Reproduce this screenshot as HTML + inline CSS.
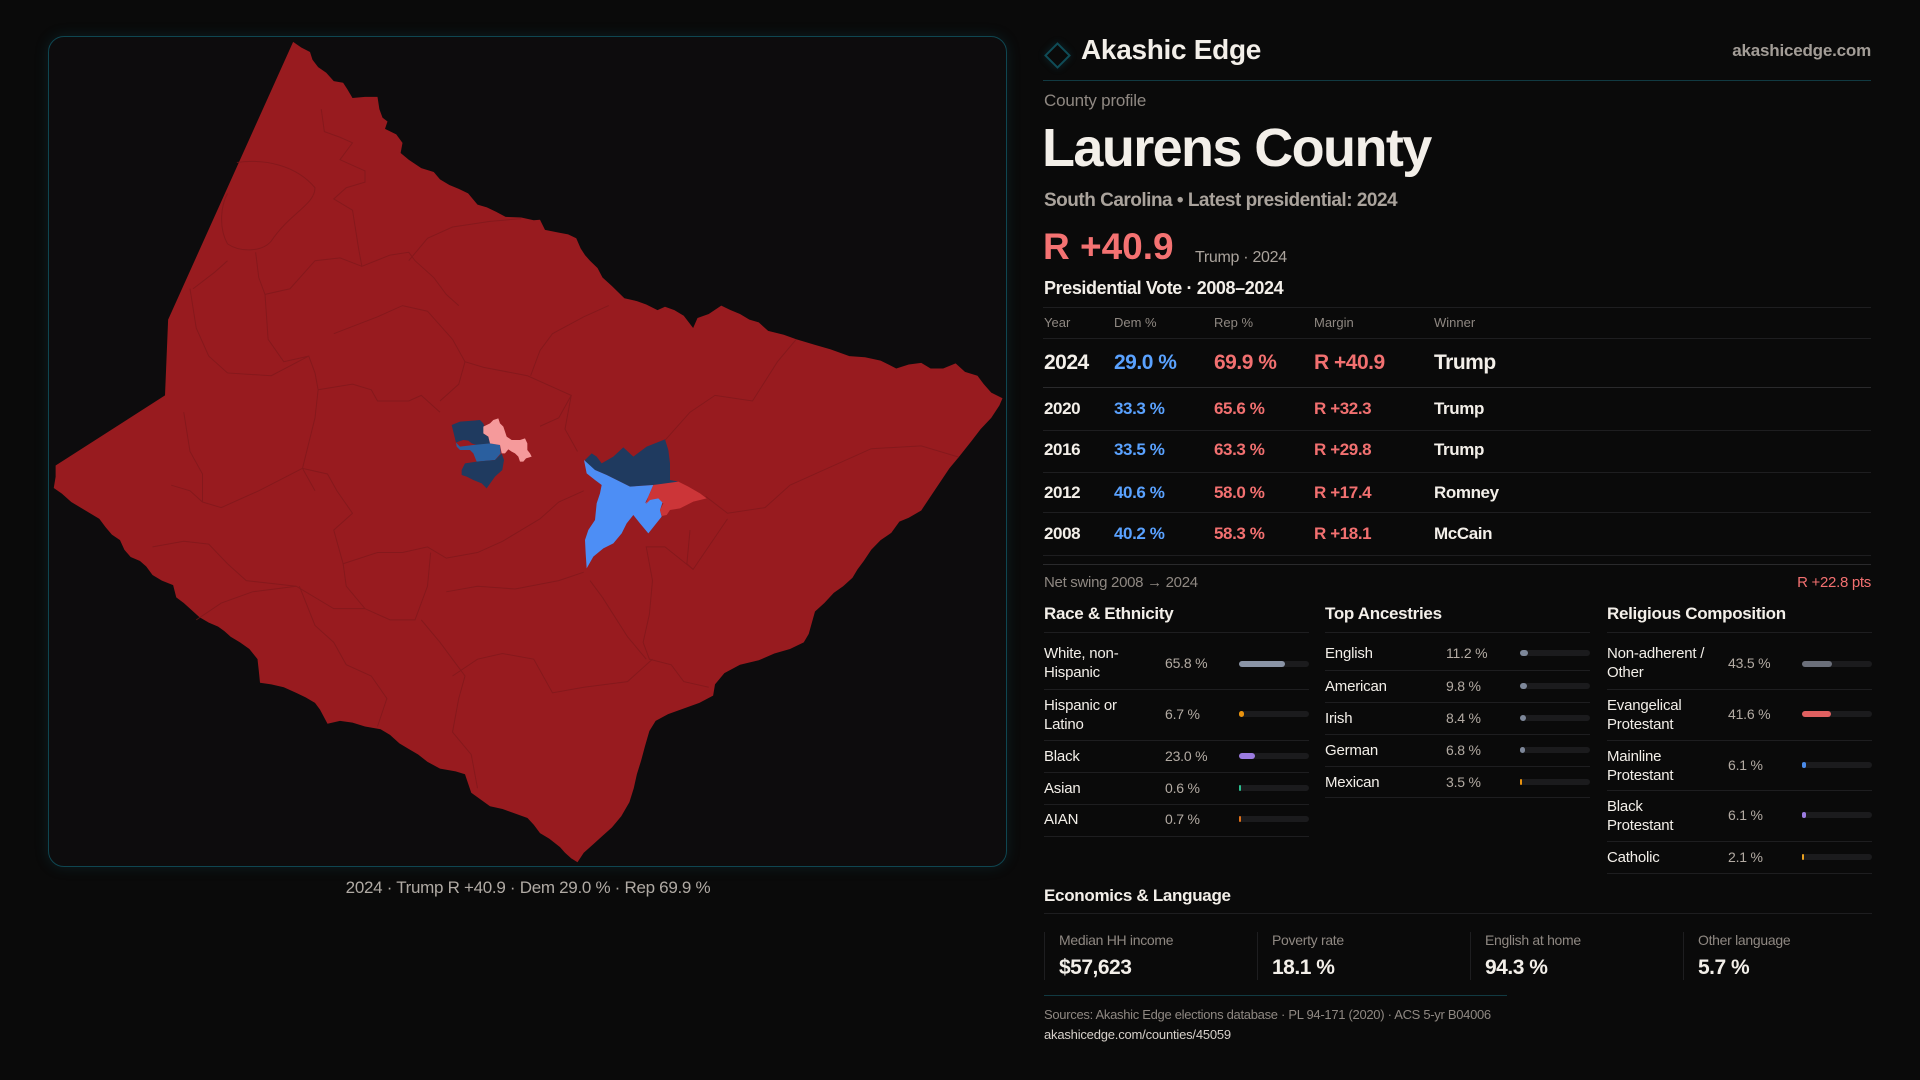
<!DOCTYPE html>
<html><head><meta charset="utf-8">
<style>
*{margin:0;padding:0;box-sizing:border-box}
body{width:1920px;height:1080px;background:#0a0a0a;overflow:hidden;font-family:"Liberation Sans",sans-serif;color:#f3efe9}
.a{position:absolute;white-space:nowrap}
.hl{position:absolute;height:1px;background:#1e1e20}
.g{color:#8f8882}
.b{font-weight:bold}
.blue{color:#5aa2ff}
.red{color:#f27070}
.track{position:absolute;height:6px;border-radius:3px;background:#1b1b1d;width:70px}
.fill{position:absolute;left:0;top:0;height:6px;border-radius:3px}
.nm{font-size:15px;line-height:19px;letter-spacing:-0.2px}
.vl{font-size:14px;line-height:14px;color:#b3aba3;letter-spacing:-0.2px}
</style></head><body>

<div class="a" style="left:48px;top:36px;width:959px;height:831px;border:1px solid #0f4651;border-radius:16px;background:#0d0c0d;box-shadow:0 0 14px rgba(20,100,115,0.22)"></div>

<svg class="a" style="left:0;top:0" width="1920" height="1080" viewBox="0 0 1920 1080">
<g transform="translate(40,25) scale(0.625,0.5612)">
<path fill="#981b1f" d="M405,30 L418,40 432,48 436,62 445,75 458,85 470,100 485,103 492,115 500,130 520,128 540,128 543,150 548,165 556,172 552,185 570,195 580,210 577,228 590,240 610,255 630,262 640,275 655,285 670,292 685,300 700,320 715,325 730,333 745,342 770,343 790,348 800,347 808,365 830,370 845,373 858,380 865,398 872,410 880,420 892,433 900,450 915,465 935,487 955,492 970,498 988,508 1000,502 1015,508 1030,518 1045,540 1052,522 1070,515 1090,500 1105,508 1120,515 1135,525 1150,530 1165,545 1190,552 1210,560 1240,570 1265,578 1295,590 1320,592 1345,598 1370,612 1390,605 1410,602 1425,612 1445,612 1465,603 1480,618 1500,625 1510,640 1522,655 1540,665 L1535,678 1522,700 1505,720 1490,742 1470,770 1455,790 1440,815 1425,840 1410,865 1390,878 1375,885 1362,905 1345,918 1330,935 1318,955 1308,970 1300,985 1285,1000 1270,1012 1255,1030 1240,1045 1235,1065 1230,1085 1222,1100 1200,1112 1175,1120 1150,1132 1120,1140 1095,1155 1080,1175 1077,1195 1055,1208 1025,1220 1005,1228 985,1240 975,1258 968,1285 962,1310 955,1335 950,1360 943,1385 930,1410 915,1430 900,1445 885,1460 870,1475 860,1492 L850,1485 840,1475 832,1465 815,1450 800,1440 790,1425 780,1413 760,1405 740,1397 720,1392 705,1380 690,1368 683,1345 680,1335 665,1330 640,1325 620,1313 605,1300 590,1290 575,1280 560,1265 545,1255 520,1250 500,1243 480,1240 460,1245 448,1220 440,1208 425,1198 410,1190 390,1180 370,1175 352,1172 350,1150 348,1130 335,1112 320,1100 305,1090 295,1080 285,1072 270,1065 255,1055 240,1040 230,1030 218,1020 213,998 195,990 180,980 170,965 160,955 145,948 135,935 128,918 115,908 105,895 95,880 80,870 65,860 50,850 35,835 22,825 25,805 25,785 L200,660 205,525 Z"/>
<g fill="none" stroke="#7e181b" stroke-width="1" opacity="0.7">
<path vector-effect="non-scaling-stroke" d="M315,245 C360,238 410,250 440,290 C440,320 400,335 370,385 C355,405 320,405 300,390 C285,360 290,320 300,300"/>
<path vector-effect="non-scaling-stroke" d="M345,405 L350,450 360,480 400,470 440,420 480,415 515,430"/>
<path vector-effect="non-scaling-stroke" d="M450,150 L455,190 480,200 500,210 480,240 520,260 520,280 490,290 470,310 500,330 510,400 515,430 560,410 590,405 600,420 630,450 650,480 670,500"/>
<path vector-effect="non-scaling-stroke" d="M590,420 L620,380 660,360 720,350 770,345"/>
<path vector-effect="non-scaling-stroke" d="M360,480 L365,560 390,600 430,590 440,620 445,650 440,700 420,790 440,830"/>
<path vector-effect="non-scaling-stroke" d="M240,470 L250,540 270,590 300,620 370,625 430,590"/>
<path vector-effect="non-scaling-stroke" d="M445,650 L500,640 530,650 540,670 590,670 610,660 640,690"/>
<path vector-effect="non-scaling-stroke" d="M470,550 L540,520 580,500 620,510 660,560 680,600 710,610 780,625 850,660 830,700 800,715"/>
<path vector-effect="non-scaling-stroke" d="M680,600 L670,640 640,670"/>
<path vector-effect="non-scaling-stroke" d="M785,625 L800,580 820,550 870,520 910,500"/>
<path vector-effect="non-scaling-stroke" d="M1000,740 L1040,690 1080,660 1140,670 1180,600 1210,560"/>
<path vector-effect="non-scaling-stroke" d="M1065,840 L1100,870 1160,860 1200,820 1260,790 1330,755 1410,750 1470,770"/>
<path vector-effect="non-scaling-stroke" d="M1045,970 L1000,930 970,930 980,990 975,1050 965,1100 975,1130 1010,1140 1030,1170 1070,1180"/>
<path vector-effect="non-scaling-stroke" d="M1040,900 L1035,960 1045,970 1100,880"/>
<path vector-effect="non-scaling-stroke" d="M210,820 L240,830 260,850 290,860 350,830 420,790"/>
<path vector-effect="non-scaling-stroke" d="M180,930 L230,920 270,925 300,960 330,990 410,1000 470,1040 520,1040"/>
<path vector-effect="non-scaling-stroke" d="M230,690 L240,760 260,800 260,850"/>
<path vector-effect="non-scaling-stroke" d="M420,790 L460,800 475,830 500,870 470,900 485,960 540,940 580,940 620,930 650,950 700,940 740,920 770,900 800,880 830,850 870,830"/>
<path vector-effect="non-scaling-stroke" d="M485,960 L490,1000 520,1040 560,1060 600,1060 620,1000 625,940"/>
<path vector-effect="non-scaling-stroke" d="M610,1060 L640,1100 660,1130 680,1160 670,1200 660,1260 690,1300 700,1360"/>
<path vector-effect="non-scaling-stroke" d="M660,1160 L700,1130 740,1120 790,1130 820,1190 870,1180 940,1170 980,1130"/>
<path vector-effect="non-scaling-stroke" d="M415,1000 L440,1070 470,1100 490,1140 530,1160 555,1200 540,1250"/>
<path vector-effect="non-scaling-stroke" d="M250,1060 L290,1030 340,1010 410,1000"/>
<path vector-effect="non-scaling-stroke" d="M880,990 L900,1020 940,1090 970,1130"/>
<path vector-effect="non-scaling-stroke" d="M870,975 L830,990 760,1005 700,1000 650,1010"/>
<path vector-effect="non-scaling-stroke" d="M850,660 L840,720 860,760"/>
<path vector-effect="non-scaling-stroke" d="M245,470 L280,440 300,420"/>
</g>
</g>
<g transform="translate(440,410) scale(0.33333)">
<path fill="#1f3a5f" d="M35,45 L60,35 100,32 120,30 130,40 135,55 130,70 145,80 150,100 110,105 95,100 85,92 70,90 55,95 48,98 Z"/>
<path fill="#2a5f9f" d="M48,98 L60,110 100,105 150,100 180,105 182,130 165,150 110,155 100,130 90,120 60,120 50,110 Z"/>
<path fill="#1f3a5f" d="M65,180 L75,160 110,155 165,150 185,130 192,150 187,180 165,200 140,235 125,220 100,210 80,200 65,195 Z"/>
<path fill="#f59a9b" d="M130,50 L150,40 160,30 175,25 180,40 190,50 195,65 200,80 215,90 240,90 255,85 262,100 262,120 270,130 275,140 258,145 250,155 240,155 235,140 225,130 215,125 205,118 195,130 185,130 180,105 150,100 145,80 130,70 Z"/>
<path fill="#1f3a5f" d="M435,150 L455,130 470,140 485,160 520,140 550,112 580,140 620,110 675,88 685,120 690,160 690,210 715,215 680,222 635,225 570,230 540,215 500,195 465,180 440,165 Z"/>
<path fill="#4d8ef5" d="M432,150 L440,190 465,210 485,225 480,250 470,280 465,330 445,360 435,390 437,430 440,475 460,440 490,415 520,400 545,370 560,340 580,315 600,340 625,370 665,320 660,300 670,270 650,255 630,265 615,280 625,260 640,225 570,230 540,215 500,195 465,180 Z"/>
<path fill="#cc3538" d="M640,225 L715,215 745,230 780,250 800,265 760,275 720,295 690,300 680,315 665,318 660,300 670,280 655,265 630,270 618,282 625,260 Z"/>
</g>
</svg>

<div class="a" style="left:340px;width:376px;text-align:center;top:879px;font-size:17px;line-height:17px;color:#b0aaa4;letter-spacing:-0.3px">2024 · Trump R +40.9 · Dem 29.0 % · Rep 69.9 %</div>

<!-- header -->
<div class="a" style="left:1048px;top:46px;width:19px;height:19px;border:2px solid #0f4c57;transform:rotate(45deg);box-shadow:0 0 8px rgba(20,100,115,0.3)"></div>
<div class="a b" style="left:1081px;top:36px;font-size:28px;line-height:28px;letter-spacing:-0.3px">Akashic Edge</div>
<div class="a b" style="right:49px;top:42px;font-size:17px;line-height:17px;color:#a39d97;letter-spacing:-0.2px">akashicedge.com</div>
<div class="hl" style="left:1043px;top:80px;width:828px;background:#113a42"></div>

<div class="a g" style="left:1044px;top:92px;font-size:17px;line-height:17px;letter-spacing:-0.2px">County profile</div>
<div class="a b" style="left:1042px;top:121px;font-size:54px;line-height:54px;letter-spacing:-1.6px">Laurens County</div>
<div class="a b" style="left:1044px;top:191px;font-size:19px;line-height:19px;color:#aaa39c;letter-spacing:-0.5px">South Carolina • Latest presidential: 2024</div>
<div class="a b red" style="left:1043px;top:228px;font-size:37px;line-height:37px;color:#f47272">R +40.9</div>
<div class="a" style="left:1195px;top:250px;font-size:16px;line-height:16px;color:#aaa39c;letter-spacing:-0.3px">Trump · 2024</div>
<div class="a b" style="left:1044px;top:279px;font-size:18px;line-height:18px;letter-spacing:-0.4px">Presidential Vote · 2008–2024</div>
<div class="hl" style="left:1043px;top:307px;width:828px"></div>

<!-- table -->
<div class="a g" style="left:1044px;top:316px;font-size:13px;line-height:13px">Year</div>
<div class="a g" style="left:1114px;top:316px;font-size:13px;line-height:13px">Dem %</div>
<div class="a g" style="left:1214px;top:316px;font-size:13px;line-height:13px">Rep %</div>
<div class="a g" style="left:1314px;top:316px;font-size:13px;line-height:13px">Margin</div>
<div class="a g" style="left:1434px;top:316px;font-size:13px;line-height:13px">Winner</div>
<div class="hl" style="left:1043px;top:338px;width:828px"></div>

<div class="a b" style="left:1044px;top:352px;font-size:21px;line-height:21px;letter-spacing:-0.5px">2024</div>
<div class="a b blue" style="left:1114px;top:352px;font-size:21px;line-height:21px;letter-spacing:-0.5px">29.0 %</div>
<div class="a b red" style="left:1214px;top:352px;font-size:21px;line-height:21px;letter-spacing:-0.5px">69.9 %</div>
<div class="a b red" style="left:1314px;top:352px;font-size:21px;line-height:21px;letter-spacing:-0.5px">R +40.9</div>
<div class="a b" style="left:1434px;top:352px;font-size:21px;line-height:21px;letter-spacing:-0.5px">Trump</div>
<div class="hl" style="left:1043px;top:387px;width:828px;background:#2a2a2c"></div>

<div class="a b" style="left:1044px;top:400px;font-size:17px;line-height:17px;letter-spacing:-0.4px">2020</div>
<div class="a b blue" style="left:1114px;top:400px;font-size:17px;line-height:17px;letter-spacing:-0.4px">33.3 %</div>
<div class="a b red" style="left:1214px;top:400px;font-size:17px;line-height:17px;letter-spacing:-0.4px">65.6 %</div>
<div class="a b red" style="left:1314px;top:400px;font-size:17px;line-height:17px;letter-spacing:-0.4px">R +32.3</div>
<div class="a b" style="left:1434px;top:400px;font-size:17px;line-height:17px;letter-spacing:-0.4px">Trump</div>
<div class="hl" style="left:1043px;top:430px;width:828px"></div>

<div class="a b" style="left:1044px;top:441px;font-size:17px;line-height:17px;letter-spacing:-0.4px">2016</div>
<div class="a b blue" style="left:1114px;top:441px;font-size:17px;line-height:17px;letter-spacing:-0.4px">33.5 %</div>
<div class="a b red" style="left:1214px;top:441px;font-size:17px;line-height:17px;letter-spacing:-0.4px">63.3 %</div>
<div class="a b red" style="left:1314px;top:441px;font-size:17px;line-height:17px;letter-spacing:-0.4px">R +29.8</div>
<div class="a b" style="left:1434px;top:441px;font-size:17px;line-height:17px;letter-spacing:-0.4px">Trump</div>
<div class="hl" style="left:1043px;top:472px;width:828px"></div>

<div class="a b" style="left:1044px;top:484px;font-size:17px;line-height:17px;letter-spacing:-0.4px">2012</div>
<div class="a b blue" style="left:1114px;top:484px;font-size:17px;line-height:17px;letter-spacing:-0.4px">40.6 %</div>
<div class="a b red" style="left:1214px;top:484px;font-size:17px;line-height:17px;letter-spacing:-0.4px">58.0 %</div>
<div class="a b red" style="left:1314px;top:484px;font-size:17px;line-height:17px;letter-spacing:-0.4px">R +17.4</div>
<div class="a b" style="left:1434px;top:484px;font-size:17px;line-height:17px;letter-spacing:-0.4px">Romney</div>
<div class="hl" style="left:1043px;top:512px;width:828px"></div>

<div class="a b" style="left:1044px;top:525px;font-size:17px;line-height:17px;letter-spacing:-0.4px">2008</div>
<div class="a b blue" style="left:1114px;top:525px;font-size:17px;line-height:17px;letter-spacing:-0.4px">40.2 %</div>
<div class="a b red" style="left:1214px;top:525px;font-size:17px;line-height:17px;letter-spacing:-0.4px">58.3 %</div>
<div class="a b red" style="left:1314px;top:525px;font-size:17px;line-height:17px;letter-spacing:-0.4px">R +18.1</div>
<div class="a b" style="left:1434px;top:525px;font-size:17px;line-height:17px;letter-spacing:-0.4px">McCain</div>
<div class="hl" style="left:1043px;top:555px;width:828px"></div>
<div class="hl" style="left:1043px;top:564px;width:828px;background:#2a2a2c"></div>

<div class="a g" style="left:1044px;top:575px;font-size:15px;line-height:15px;letter-spacing:-0.3px">Net swing 2008 → 2024</div>
<div class="a red" style="right:49px;top:575px;font-size:15px;line-height:15px;letter-spacing:-0.3px">R +22.8 pts</div>

<!-- sections -->
<div class="a b" style="left:1044px;top:605px;font-size:17px;line-height:17px;letter-spacing:-0.3px">Race &amp; Ethnicity</div>
<div class="a b" style="left:1325px;top:605px;font-size:17px;line-height:17px;letter-spacing:-0.3px">Top Ancestries</div>
<div class="a b" style="left:1607px;top:605px;font-size:17px;line-height:17px;letter-spacing:-0.3px">Religious Composition</div>
<div class="hl" style="left:1044px;top:632px;width:265px"></div>
<div class="hl" style="left:1325px;top:632px;width:265px"></div>
<div class="hl" style="left:1607px;top:632px;width:265px"></div>

<!-- race -->
<div class="a nm" style="left:1044px;top:644px">White, non-<br>Hispanic</div>
<div class="a vl" style="left:1165px;top:656px">65.8 %</div>
<div class="track" style="left:1239px;top:661px"><div class="fill" style="width:46px;background:#8a94a6"></div></div>
<div class="hl" style="left:1044px;top:689px;width:265px"></div>

<div class="a nm" style="left:1044px;top:696px">Hispanic or<br>Latino</div>
<div class="a vl" style="left:1165px;top:707px">6.7 %</div>
<div class="track" style="left:1239px;top:711px"><div class="fill" style="width:5px;background:#e8920e"></div></div>
<div class="hl" style="left:1044px;top:740px;width:265px"></div>

<div class="a nm" style="left:1044px;top:747px">Black</div>
<div class="a vl" style="left:1165px;top:749px">23.0 %</div>
<div class="track" style="left:1239px;top:753px"><div class="fill" style="width:16px;background:#9b7be0"></div></div>
<div class="hl" style="left:1044px;top:772px;width:265px"></div>

<div class="a nm" style="left:1044px;top:779px">Asian</div>
<div class="a vl" style="left:1165px;top:781px">0.6 %</div>
<div class="track" style="left:1239px;top:785px"><div class="fill" style="width:2px;background:#2bbf8f"></div></div>
<div class="hl" style="left:1044px;top:804px;width:265px"></div>

<div class="a nm" style="left:1044px;top:810px">AIAN</div>
<div class="a vl" style="left:1165px;top:812px">0.7 %</div>
<div class="track" style="left:1239px;top:816px"><div class="fill" style="width:2px;background:#e0711a"></div></div>
<div class="hl" style="left:1044px;top:836px;width:265px"></div>

<!-- ancestries -->
<div class="a nm" style="left:1325px;top:644px">English</div>
<div class="a vl" style="left:1446px;top:646px">11.2 %</div>
<div class="track" style="left:1520px;top:650px"><div class="fill" style="width:8px;background:#7d8799"></div></div>
<div class="hl" style="left:1325px;top:670px;width:265px"></div>

<div class="a nm" style="left:1325px;top:677px">American</div>
<div class="a vl" style="left:1446px;top:679px">9.8 %</div>
<div class="track" style="left:1520px;top:683px"><div class="fill" style="width:7px;background:#7d8799"></div></div>
<div class="hl" style="left:1325px;top:702px;width:265px"></div>

<div class="a nm" style="left:1325px;top:709px">Irish</div>
<div class="a vl" style="left:1446px;top:711px">8.4 %</div>
<div class="track" style="left:1520px;top:715px"><div class="fill" style="width:6px;background:#7d8799"></div></div>
<div class="hl" style="left:1325px;top:734px;width:265px"></div>

<div class="a nm" style="left:1325px;top:741px">German</div>
<div class="a vl" style="left:1446px;top:743px">6.8 %</div>
<div class="track" style="left:1520px;top:747px"><div class="fill" style="width:5px;background:#7d8799"></div></div>
<div class="hl" style="left:1325px;top:766px;width:265px"></div>

<div class="a nm" style="left:1325px;top:773px">Mexican</div>
<div class="a vl" style="left:1446px;top:775px">3.5 %</div>
<div class="track" style="left:1520px;top:779px"><div class="fill" style="width:2px;background:#e8920e"></div></div>
<div class="hl" style="left:1325px;top:797px;width:265px"></div>

<!-- religion -->
<div class="a nm" style="left:1607px;top:644px">Non-adherent /<br>Other</div>
<div class="a vl" style="left:1728px;top:656px">43.5 %</div>
<div class="track" style="left:1802px;top:661px"><div class="fill" style="width:30px;background:#6b6f7a"></div></div>
<div class="hl" style="left:1607px;top:689px;width:265px"></div>

<div class="a nm" style="left:1607px;top:696px">Evangelical<br>Protestant</div>
<div class="a vl" style="left:1728px;top:707px">41.6 %</div>
<div class="track" style="left:1802px;top:711px"><div class="fill" style="width:29px;background:#e06060"></div></div>
<div class="hl" style="left:1607px;top:740px;width:265px"></div>

<div class="a nm" style="left:1607px;top:747px">Mainline<br>Protestant</div>
<div class="a vl" style="left:1728px;top:758px">6.1 %</div>
<div class="track" style="left:1802px;top:762px"><div class="fill" style="width:4px;background:#4a8ae8"></div></div>
<div class="hl" style="left:1607px;top:790px;width:265px"></div>

<div class="a nm" style="left:1607px;top:797px">Black<br>Protestant</div>
<div class="a vl" style="left:1728px;top:808px">6.1 %</div>
<div class="track" style="left:1802px;top:812px"><div class="fill" style="width:4px;background:#9b7be0"></div></div>
<div class="hl" style="left:1607px;top:841px;width:265px"></div>

<div class="a nm" style="left:1607px;top:848px">Catholic</div>
<div class="a vl" style="left:1728px;top:850px">2.1 %</div>
<div class="track" style="left:1802px;top:854px"><div class="fill" style="width:2px;background:#e8a020"></div></div>
<div class="hl" style="left:1607px;top:873px;width:265px"></div>

<!-- economics -->
<div class="a b" style="left:1044px;top:887px;font-size:17px;line-height:17px;letter-spacing:-0.3px">Economics &amp; Language</div>
<div class="hl" style="left:1044px;top:913px;width:828px"></div>
<div class="a" style="left:1044px;top:932px;width:1px;height:48px;background:#1e1e20"></div>
<div class="a" style="left:1257px;top:932px;width:1px;height:48px;background:#1e1e20"></div>
<div class="a" style="left:1470px;top:932px;width:1px;height:48px;background:#1e1e20"></div>
<div class="a" style="left:1683px;top:932px;width:1px;height:48px;background:#1e1e20"></div>
<div class="a g" style="left:1059px;top:933px;font-size:14px;line-height:14px;letter-spacing:-0.3px">Median HH income</div>
<div class="a g" style="left:1272px;top:933px;font-size:14px;line-height:14px;letter-spacing:-0.3px">Poverty rate</div>
<div class="a g" style="left:1485px;top:933px;font-size:14px;line-height:14px;letter-spacing:-0.3px">English at home</div>
<div class="a g" style="left:1698px;top:933px;font-size:14px;line-height:14px;letter-spacing:-0.3px">Other language</div>
<div class="a b" style="left:1059px;top:957px;font-size:21px;line-height:21px;letter-spacing:-0.5px">$57,623</div>
<div class="a b" style="left:1272px;top:957px;font-size:21px;line-height:21px;letter-spacing:-0.5px">18.1 %</div>
<div class="a b" style="left:1485px;top:957px;font-size:21px;line-height:21px;letter-spacing:-0.5px">94.3 %</div>
<div class="a b" style="left:1698px;top:957px;font-size:21px;line-height:21px;letter-spacing:-0.5px">5.7 %</div>
<div class="hl" style="left:1044px;top:995px;width:463px;background:#113a42"></div>
<div class="a g" style="left:1044px;top:1008px;font-size:13px;line-height:13px;letter-spacing:-0.3px">Sources: Akashic Edge elections database · PL 94-171 (2020) · ACS 5-yr B04006</div>
<div class="a" style="left:1044px;top:1028px;font-size:13px;line-height:13px;color:#d6d0ca;letter-spacing:-0.2px">akashicedge.com/counties/45059</div>

</body></html>
